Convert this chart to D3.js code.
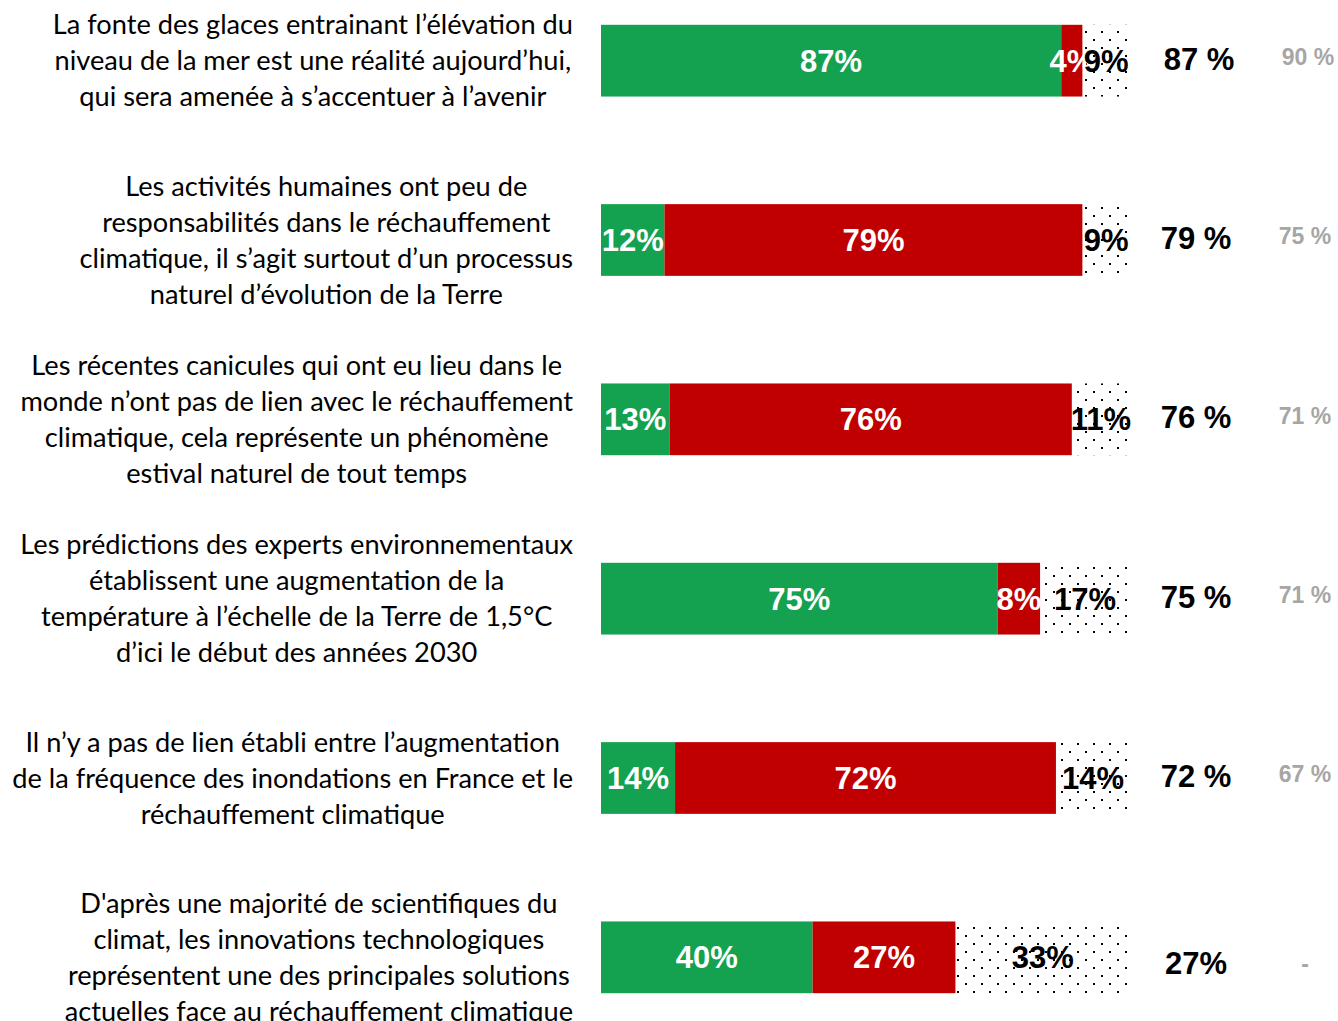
<!DOCTYPE html>
<html>
<head>
<meta charset="utf-8">
<script src="https://cdn.jsdelivr.net/npm/d3@7"></script>
<style>
  html, body { margin: 0; padding: 0; background: #fff; }
  svg { display: block; }
</style>
</head>
<body>
<script>
// ---- data ----
const categories = [
  ["La fonte des glaces entrainant l’élévation du", "niveau de la mer est une réalité aujourd’hui,", "qui sera amenée à s’accentuer à l’avenir"],
  ["Les activités humaines ont peu de", "responsabilités dans le réchauffement", "climatique, il s’agit surtout d’un processus", "naturel d’évolution de la Terre"],
  ["Les récentes canicules qui ont eu lieu dans le", "monde n’ont pas de lien avec le réchauffement", "climatique, cela représente un phénomène", "estival naturel de tout temps"],
  ["Les prédictions des experts environnementaux", "établissent une augmentation de la", "température à l’échelle de la Terre de 1,5°C", "d’ici le début des années 2030"],
  ["Il n’y a pas de lien établi entre l’augmentation", "de la fréquence des inondations en France et le", "réchauffement climatique"],
  ["D'après une majorité de scientifiques du", "climat, les innovations technologiques", "représentent une des principales solutions", "actuelles face au réchauffement climatique"]
];
const greenValues = [87, 12, 13, 75, 14, 40];
const redValues   = [4, 79, 76, 8, 72, 27];
const dottedValues = [9, 9, 11, 17, 14, 33];
const scoreLabels = ["87 %", "79 %", "76 %", "75 %", "72 %", "27%"];
const previousLabels = ["90 %", "75 %", "71 %", "71 %", "67 %", "-"];

// ---- layout ----
const W = 1338, H = 1021;
const svg = d3.select("body").append("svg").attr("width", W).attr("height", H);

const x = d3.scaleLinear().domain([0, 100]).range([601, 1130]);
const y = d3.scaleBand().domain(d3.range(categories.length)).range([-29, 1047]).paddingInner(0.6).paddingOuter(0.3);

const defs = svg.append("defs");
const pat = defs.append("pattern").attr("id", "dots").attr("patternUnits", "userSpaceOnUse")
  .attr("width", 16).attr("height", 16).attr("x", 5).attr("y", 7);
pat.append("rect").attr("x", 0).attr("y", 0).attr("width", 2).attr("height", 2).attr("fill", "#000");
pat.append("rect").attr("x", 8).attr("y", 8).attr("width", 2).attr("height", 2).attr("fill", "#000");

const rows = categories.map((c, i) => {
  const g = greenValues[i], r = redValues[i], d = dottedValues[i];
  return { i, lines: c, segs: [
    { key: "g", x0: 0, x1: g, v: g, fill: "#14a150", color: "#fff" },
    { key: "r", x0: g, x1: g + r, v: r, fill: "#c00000", color: "#fff" },
    { key: "d", x0: g + r, x1: g + r + d, v: d, fill: "url(#dots)", color: "#000" }
  ]};
});

const rowG = svg.selectAll("g.row").data(rows).join("g").attr("class", "row");

rowG.each(function(row) {
  const gsel = d3.select(this);
  const top = y(row.i), bh = y.bandwidth(), cy = top + bh / 2;
  const last = row.i === categories.length - 1;
  gsel.selectAll("rect.seg").data(row.segs).join("rect").attr("class", "seg")
    .attr("x", s => x(s.x0)).attr("y", top)
    .attr("width", s => x(s.x1) - x(s.x0)).attr("height", bh)
    .attr("fill", s => s.fill);
  gsel.selectAll("text.seglab").data(row.segs).join("text").attr("class", "seglab")
    .attr("x", s => (x(s.x0) + x(s.x1)) / 2).attr("y", cy)
    .attr("dy", "0.36em").attr("text-anchor", "middle")
    .attr("font-family", "'Liberation Sans', Arial, sans-serif").attr("font-weight", "bold")
    .attr("font-size", 31).attr("fill", s => s.color)
    .text(s => s.v + "%");
  gsel.append("text")
    .attr("x", row.i === 0 ? 1199 : 1196).attr("y", cy + (last ? 6 : -2))
    .attr("dy", "0.36em").attr("text-anchor", "middle")
    .attr("font-family", "'Liberation Sans', Arial, sans-serif").attr("font-weight", "bold")
    .attr("font-size", 31).attr("fill", "#000")
    .text(scoreLabels[row.i]);
  gsel.append("text")
    .attr("x", row.i === 0 ? 1308 : 1305).attr("y", cy + (last ? 6 : -4))
    .attr("dy", "0.36em").attr("text-anchor", "middle")
    .attr("font-family", "'Liberation Sans', Arial, sans-serif").attr("font-weight", "bold")
    .attr("font-size", 23).attr("fill", "#a6a6a6")
    .text(previousLabels[row.i]);
});

// left labels with font sizing based on measured width
const labelFont = "Lato, 'Open Sans', sans-serif";
const measure = svg.append("text").attr("font-family", labelFont).attr("font-size", 100).attr("visibility", "hidden");
let maxAll = 0;
categories.forEach(c => c.forEach(l => { measure.text(l); maxAll = Math.max(maxAll, measure.node().getComputedTextLength()); }));
const fs = 100 * 561 / maxAll;
measure.remove();

rowG.each(function(row) {
  const gsel = d3.select(this);
  const cy = y(row.i) + y.bandwidth() / 2;
  const n = row.lines.length;
  const t = gsel.append("text").attr("font-family", labelFont).attr("font-size", fs).attr("fill", "#000")
    .attr("text-anchor", "middle");
  row.lines.forEach((l, k) => {
    t.append("tspan").attr("y", cy + (k - (n - 1) / 2) * 36).attr("dy", "0.35em").text(l);
  });
  let mw = 0;
  t.selectAll("tspan").each(function() { mw = Math.max(mw, this.getComputedTextLength()); });
  t.selectAll("tspan").attr("x", 573 - mw / 2);
});
</script>
</body>
</html>
